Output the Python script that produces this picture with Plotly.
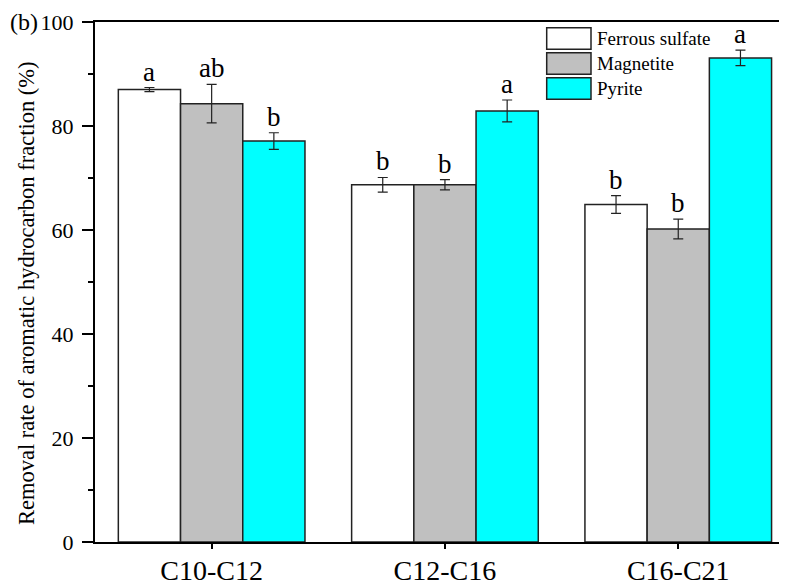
import plotly.graph_objects as go

categories = ["C10-C12", "C12-C16", "C16-C21"]
series_names = ["Ferrous sulfate", "Magnetite", "Pyrite"]
ferrous = [87.0, 68.7, 64.9]
ferrous_err = [0.4, 1.4, 1.7]
magnetite = [84.3, 68.7, 60.2]
magnetite_err = [3.7, 1.0, 1.9]
pyrite = [77.1, 82.9, 93.1]
pyrite_err = [1.6, 2.1, 1.5]
letters_ferrous = ["a", "b", "b"]
letters_magnetite = ["ab", "b", "b"]
letters_pyrite = ["b", "a", "a"]
y_ticks = [0, 20, 40, 60, 80, 100]
y_title = "Removal rate of aromatic hydrocarbon fraction (%)"

colors = ["#FFFFFF", "#C0C0C0", "#00FFFF"]
FONT = "Liberation Serif"

OFF = 8  # page body margin
W, H = 787 - OFF, 585 - OFF
ML, MR, MT = 95 - OFF, 0, 22 - OFF
ph = 520
MB = H - MT - ph
pw = W - ML - MR

fig = go.Figure()
vals = [ferrous, magnetite, pyrite]
errs = [ferrous_err, magnetite_err, pyrite_err]
lets = [letters_ferrous, letters_magnetite, letters_pyrite]
offsets = [-0.8 / 3, 0, 0.8 / 3]

for name, v, e, c in zip(series_names, vals, errs, colors):
    fig.add_trace(go.Bar(
        name=name, x=list(range(len(categories))), y=v,
        marker=dict(color=c, line=dict(color="#222222", width=1.5)),
        error_y=dict(type="data", array=e, visible=True, color="#222222",
                     thickness=1.2, width=5),
        showlegend=False,
    ))

for v, e, l, off in zip(vals, errs, lets, offsets):
    for i in range(len(categories)):
        fig.add_annotation(x=i + off, y=v[i] + e[i], text=l[i], showarrow=False,
                           xref="x", yref="y", yanchor="bottom", yshift=-1,
                           font=dict(family=FONT, size=27, color="black"))

# screen pixel -> paper
def px2x(px):
    return (px - OFF - ML) / pw

def py2y(py):
    return (MT + ph - (py - OFF)) / ph

box_x0, box_x1 = 546.7, 591
rows = [(27.7, 49.3), (52.7, 74.3), (77.7, 99.3)]
for (y0, y1), c, name in zip(rows, colors, series_names):
    fig.add_shape(type="rect", xref="paper", yref="paper",
                  x0=px2x(box_x0), x1=px2x(box_x1), y0=py2y(y1), y1=py2y(y0),
                  fillcolor=c, line=dict(color="#222222", width=1.5))
    fig.add_annotation(xref="paper", yref="paper", x=px2x(595), y=py2y((y0 + y1) / 2),
                       text=name, showarrow=False, xanchor="left", yanchor="middle",
                       font=dict(family=FONT, size=19, color="black"))

fig.add_annotation(xref="paper", yref="paper", x=px2x(8), y=py2y(22),
                   text="(b)", showarrow=False, xanchor="left", yanchor="middle",
                   font=dict(family=FONT, size=24, color="black"))

fig.add_annotation(xref="paper", yref="paper", x=px2x(27), y=py2y(293),
                   text=y_title, showarrow=False, textangle=-90,
                   xanchor="center", yanchor="middle",
                   font=dict(family=FONT, size=22.5, color="black"))

fig.update_layout(
    width=W, height=H,
    margin=dict(l=ML, r=MR, t=MT, b=MB, pad=0, autoexpand=False),
    plot_bgcolor="white", paper_bgcolor="white",
    barmode="group", bargap=0.2, bargroupgap=0,
    font=dict(family=FONT, color="black"),
)
fig.update_xaxes(
    range=[-0.5, -0.5 + pw / 233.3], tickvals=list(range(len(categories))),
    ticktext=categories, showgrid=False, zeroline=False, automargin=False,
    showline=True, linecolor="black", linewidth=2, mirror=True,
    ticks="outside", ticklen=5, tickwidth=1.5, tickcolor="black",
    ticklabelstandoff=-3,
    tickfont=dict(family=FONT, size=28, color="black"),
)
fig.update_yaxes(
    range=[0, 100], tickvals=y_ticks, showgrid=False, zeroline=False, automargin=False,
    showline=True, linecolor="black", linewidth=2,
    ticks="outside", ticklen=11, tickwidth=1.5, tickcolor="black",
    ticklabelstandoff=4,
    minor=dict(dtick=10, ticks="outside", ticklen=5, tickwidth=1.5, tickcolor="black", showgrid=False),
    tickfont=dict(family=FONT, size=22, color="black"),
)

fig.write_html("out.html")
